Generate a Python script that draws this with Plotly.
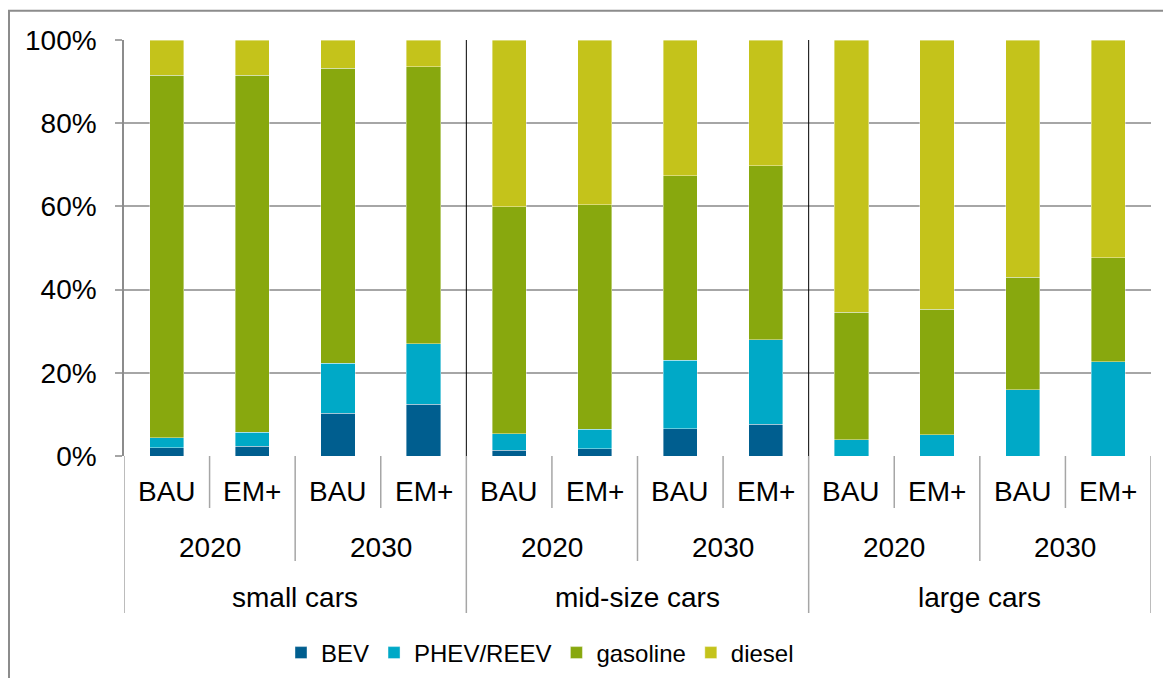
import plotly.graph_objects as go

# ---- data (percent shares) ----
sizes = ["small cars", "mid-size cars", "large cars"]
years = ["2020", "2030"]
scenarios = ["BAU", "EM+"]

bev      = [2.0, 2.3, 10.3, 12.5,   1.4, 1.7, 6.6, 7.6,    0.0, 0.0, 0.0, 0.0]
phev     = [2.4, 3.4, 12.0, 14.5,   4.0, 4.7, 16.4, 20.4,  3.9, 5.1, 15.9, 22.7]
gasoline = [87.1, 85.8, 70.9, 66.6, 54.5, 54.0, 44.4, 41.8, 30.6, 30.2, 27.1, 24.9]
diesel   = [8.5, 8.5, 6.8, 6.4,     40.1, 39.6, 32.6, 30.2, 65.5, 64.7, 57.0, 52.4]

series = [("BEV", bev, "#005E8F"),
          ("PHEV/REEV", phev, "#00A9C7"),
          ("gasoline", gasoline, "#88A80E"),
          ("diesel", diesel, "#C4C31B")]

# category rows
cats = [(s, y, sc) for s in sizes for y in years for sc in scenarios]
xpos = list(range(len(cats)))

FONT = "Liberation Sans, Arial, sans-serif"
LBL = 28
W, H = 1155, 670
fig = go.Figure()
for name, vals, col in series:
    fig.add_trace(go.Bar(x=xpos, y=vals, name=name, width=0.4,
                         marker=dict(color=col, line=dict(color="rgba(255,255,255,0.5)", width=0.8))))

# plot geometry (px) for placing label rows below the axis
PLOT_H = 416.0
PLOT_W = 1027.0
def py(px_below):
    return -px_below / PLOT_H

annotations = []
shapes = []
# scenario labels
for i, (s, y, sc) in enumerate(cats):
    annotations.append(dict(x=i, y=py(36), xref="x", yref="paper", text=sc,
                            xanchor="center", yanchor="middle",
                            showarrow=False, font=dict(size=LBL, color="#000", family=FONT)))
# year labels
n_sc = len(scenarios)
for j in range(len(sizes) * len(years)):
    xc = j * n_sc + (n_sc - 1) / 2
    annotations.append(dict(x=xc, y=py(91), xref="x", yref="paper", text=years[j % len(years)],
                            xanchor="center", yanchor="middle",
                            showarrow=False, font=dict(size=LBL, color="#000", family=FONT)))
# size labels
n_sz = len(years) * n_sc
for k, s in enumerate(sizes):
    xc = k * n_sz + (n_sz - 1) / 2
    annotations.append(dict(x=xc, y=py(141), xref="x", yref="paper", text=s,
                            xanchor="center", yanchor="middle",
                            showarrow=False, font=dict(size=LBL, color="#000", family=FONT)))

# separator lines in label area
for b in range(len(cats) + 1):
    xb = b - 0.5
    if b % n_sz == 0:
        depth = 157
    elif b % n_sc == 0:
        depth = 105
    else:
        depth = 52
    shapes.append(dict(type="line", xref="x", yref="paper", x0=xb, x1=xb, y0=0, y1=py(depth),
                       line=dict(color="#A6A6A6", width=1.5)))
    if b % n_sz == 0 and 0 < b < len(cats):
        shapes.append(dict(type="line", xref="x", yref="paper", x0=xb, x1=xb, y0=0, y1=1,
                           line=dict(color="#000000", width=1)))

# outer chart border (top and left edges visible)
shapes.append(dict(type="rect", xref="paper", yref="paper",
                   x0=(1 - 116) / PLOT_W, x1=1 + 40 / PLOT_W,
                   y0=py(260), y1=1 + 29.3 / PLOT_H,
                   line=dict(color="#8C8C8C", width=2), fillcolor="rgba(0,0,0,0)", layer="below"))

fig.update_layout(
    barmode="stack",
    width=W, height=H,
    margin=dict(l=116, r=12, t=32, b=222),
    paper_bgcolor="white", plot_bgcolor="white",
    font=dict(family=FONT, size=24, color="#000"),
    showlegend=True,
    legend=dict(orientation="h", xref="container", yref="container",
                x=532 / W, xanchor="center", y=1 - 645 / H, yanchor="middle",
                font=dict(size=24, family=FONT), traceorder="normal", itemwidth=30),
    annotations=annotations,
    shapes=shapes,
    bargap=0.6,
)
fig.update_xaxes(range=[-0.5, len(cats) - 0.5], showticklabels=False, showgrid=False,
                 zeroline=False, showline=False, ticks="")
fig.update_yaxes(range=[0, 100], dtick=20, ticksuffix="%", showgrid=True, gridcolor="#A6A6A6",
                 gridwidth=1.5, zeroline=False, showline=True, linecolor="#8C8C8C", linewidth=1.5,
                 ticks="outside", ticklen=7, tickcolor="#A6A6A6", tickwidth=1.5,
                 ticklabelstandoff=13, tickfont=dict(size=LBL, family=FONT))

fig.write_html("out.html")
